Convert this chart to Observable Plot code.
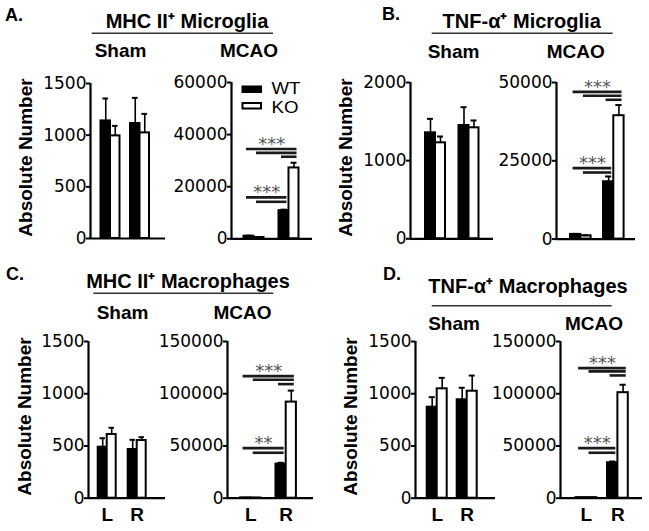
<!DOCTYPE html>
<html>
<head>
<meta charset="utf-8">
<script src="https://cdn.jsdelivr.net/npm/d3@7"></script>
<script src="https://cdn.jsdelivr.net/npm/@observablehq/plot@0.6"></script>
<style>
  body { margin: 0; background: #fff; }
  #fig { position: relative; width: 649px; height: 531px; overflow: hidden; background: #fff;
         font-family: "Liberation Sans", Arial, sans-serif; }
</style>
</head>
<body>
<div id="fig"></div>
<script>
// ---------- categories & labels ----------
const sides = ["L", "R"];
const genotypes = ["WT", "KO"];
const conditions = ["Sham", "MCAO"];
const panelLetters = ["A.", "B.", "C.", "D."];
const panelTitles = ["MHC II⁺ Microglia", "TNF-α⁺ Microglia", "MHC II⁺ Macrophages", "TNF-α⁺ Macrophages"];
const yLabel = "Absolute Number";

// ---------- values (order: L-WT, L-KO, R-WT, R-KO) ----------
const aShamMean = [1138, 993, 1113, 1022];
const aShamSem  = [217, 97, 248, 184];
const aMcaoMean = [1000, 500, 10800, 27200];
const aMcaoSem  = [200, 100, 400, 2000];
const bShamMean = [1356, 1228, 1450, 1420];
const bShamSem  = [179, 81, 234, 94];
const bMcaoMean = [1500, 1050, 18300, 39400];
const bMcaoSem  = [150, 150, 1700, 3400];
const cShamMean = [488, 610, 466, 552];
const cShamSem  = [86, 64, 93, 32];
const cMcaoMean = [300, 200, 32600, 92000];
const cMcaoSem  = [100, 100, 1300, 11000];
const dShamMean = [871, 1047, 942, 1024];
const dShamSem  = [96, 105, 115, 150];
const dMcaoMean = [500, 500, 33900, 101000];
const dMcaoSem  = [100, 100, 1200, 7600];

// ---------- y tick labels ----------
const ticks1500 = [0, 500, 1000, 1500];
const ticks60000 = [0, 20000, 40000, 60000];
const ticks2000 = [0, 1000, 2000];
const ticks50000 = [0, 25000, 50000];
const ticks150000 = [0, 50000, 100000, 150000];

// ---------- significance comparisons: [from bar, to bar, bracket height] ----------
const aSig = [[0, 3, 34500], [1, 3, 33000], [2, 3, 31500], [0, 2, 15900], [1, 2, 14200]];
const bSig = [[0, 3, 47000], [1, 3, 45750], [2, 3, 44480], [0, 2, 22670], [1, 2, 21260]];
const cSig = [[0, 3, 116860], [1, 3, 113400], [2, 3, 109200], [0, 2, 47900], [1, 2, 43500]];
const dSig = [[0, 3, 124500], [1, 3, 121400], [2, 3, 117500], [0, 2, 47900], [1, 2, 43500]];
// star label placed over comparison index
const aStars = [["***", 0], ["***", 3]];
const bStars = [["***", 0], ["***", 3]];
const cStars = [["***", 0], ["**", 3]];
const dStars = [["***", 0], ["***", 3]];

// ---------- layout (page pixels) ----------
const L = {
  aSham: {ax: 90, end: 165, yTop: 83.3, y0: 238.3, lStart: 100.5, rStart: 130, unit: 9.5},
  aMcao: {ax: 230.5, end: 311.5, yTop: 82, y0: 238.3, lStart: 243, rStart: 278, unit: 10},
  bSham: {ax: 410, end: 493, yTop: 82, y0: 238.3, lStart: 425, rStart: 458.5, unit: 10},
  bMcao: {ax: 556, end: 635, yTop: 81.7, y0: 238.3, lStart: 570, rStart: 603, unit: 10.3},
  cSham: {ax: 88, end: 165, yTop: 341, y0: 497.7, lStart: 97.7, rStart: 127.7, unit: 9},
  cMcao: {ax: 227, end: 313, yTop: 341, y0: 497.7, lStart: 240, rStart: 275.5, unit: 10.2},
  dSham: {ax: 415, end: 495, yTop: 341, y0: 497.7, lStart: 426.7, rStart: 456.7, unit: 10},
  dMcao: {ax: 560, end: 642, yTop: 341, y0: 497.7, lStart: 575.5, rStart: 607, unit: 10.4}
};
const H = [
  {letter: [5, 20.7], title: [187, 28.3], rule: [91.7, 273, 33.3], cond: [120.5, 249, 57.3], ylab: [32, 157.5]},
  {letter: [382, 20.3], title: [521.7, 28.3], rule: [431.7, 612.7, 33.3], cond: [453.5, 575.8, 58.3], ylab: [352, 157.5]},
  {letter: [6, 280], title: [188, 288.3], rule: [93.3, 273.3, 293.3], cond: [122.5, 242.5, 319.3], ylab: [30.7, 416.5]},
  {letter: [383, 280], title: [528, 293], rule: [431.7, 611.7, 305.7], cond: [454, 594, 330], ylab: [357, 416.5]}
];

const fig = document.getElementById("fig");

// ---------- headings ----------
const hs = d3.select(fig).append("svg")
  .attr("width", 649).attr("height", 531)
  .style("position", "absolute").style("left", "0px").style("top", "0px")
  .style("font-family", '"Liberation Sans", Arial, sans-serif');

H.forEach((h, i) => {
  hs.append("text").attr("x", h.letter[0]).attr("y", h.letter[1])
    .attr("font-size", 18).attr("font-weight", "bold").text(panelLetters[i]);
  hs.append("text").attr("x", h.title[0]).attr("y", h.title[1]).attr("text-anchor", "middle")
    .attr("font-size", 20).attr("font-weight", "bold").text(panelTitles[i]);
  hs.append("line").attr("x1", h.rule[0]).attr("x2", h.rule[1]).attr("y1", h.rule[2]).attr("y2", h.rule[2])
    .attr("stroke", "#333").attr("stroke-width", 1.5);
  conditions.forEach((c, k) => {
    hs.append("text").attr("x", h.cond[k]).attr("y", h.cond[2]).attr("text-anchor", "middle")
      .attr("font-size", 19).attr("font-weight", "bold").text(c);
  });
  hs.append("text").attr("transform", `translate(${h.ylab[0]},${h.ylab[1]}) rotate(-90)`)
    .attr("text-anchor", "middle").attr("font-size", 19).attr("font-weight", "bold").text(yLabel);
});

// legend (panel A, MCAO)
const legendFill = ["#000", "#fff"];
genotypes.forEach((g, k) => {
  const y = 86 + k * 16.5;
  hs.append("rect").attr("x", 242.5).attr("y", y + 0.5).attr("width", 18.5).attr("height", 5.5)
    .attr("fill", legendFill[k]).attr("stroke", "#000").attr("stroke-width", 2);
  hs.append("text").attr("x", 271.5).attr("y", 93.5 + k * 19).attr("font-size", 16.5)
    .attr("textLength", k ? 27 : 29).attr("lengthAdjust", "spacingAndGlyphs").text(g);
});

// ---------- subplot builder ----------
function subplot(lay, mean, sem, yMax, ticks, opts = {}) {
  const mL = 75, mR = 12, mT = 14, mB = opts.xlabels ? 34 : 10;
  const W = (lay.end - lay.ax) / lay.unit;
  const off = [(lay.lStart - lay.ax) / lay.unit, (lay.rStart - lay.ax) / lay.unit];
  const bars = mean.map((m, i) => {
    const s = Math.floor(i / 2), g = i % 2;
    const x1 = off[s] + g;
    return {side: sides[s], genotype: genotypes[g], x1, x2: x1 + 1, xc: x1 + 0.5, mean: m, top: m + sem[i]};
  });
  const pairs = sides.map((s, k) => ({side: s, xc: off[k] + 1}));
  const lines = (opts.sig || []).map(([a, b, y]) => ({x1: bars[a].xc - 0.25, x2: bars[b].x2 - 0.2, y}));
  const stars = (opts.stars || []).map(([label, k]) => ({label, x: (lines[k].x1 + lines[k].x2) / 2, y: lines[k].y}));
  const marks = [
    Plot.rect(bars, {x1: "x1", x2: "x2", y1: () => 0, y2: "mean", fill: "genotype", stroke: "#000", strokeWidth: 2}),
    Plot.ruleX(bars, {x: "xc", y1: "mean", y2: "top", stroke: "#000", strokeWidth: 1.6}),
    Plot.ruleY(bars, {x1: d => d.xc - 0.3, x2: d => d.xc + 0.3, y: "top", stroke: "#000", strokeWidth: 2}),
    Plot.ruleX([0], {stroke: "#000", strokeWidth: 2.2}),
    Plot.ruleY([0], {stroke: "#000", strokeWidth: 2.2}),
    Plot.axisY(ticks, {tickSize: 4, tickPadding: 0, fontSize: 17, fontFamily: "DejaVu Sans",
      tickFormat: d => String(d), strokeWidth: 2, label: null, fill: "#000", stroke: "#000"}),
    Plot.ruleY(lines, {x1: "x1", x2: "x2", y: "y", stroke: "#1a1a1a", strokeWidth: 2.6}),
    Plot.text(stars, {x: "x", y: "y", text: "label", lineAnchor: "bottom", dy: 1, fontSize: 18,
      fontFamily: "DejaVu Sans", fill: "#555"})
  ];
  if (opts.xlabels) {
    marks.push(Plot.text(pairs, {x: "xc", text: "side", frameAnchor: "bottom", lineAnchor: "top", dy: 9,
      fontSize: 19, fontWeight: "bold", fill: "#000"}));
  }
  const el = Plot.plot({
    width: mL + (lay.end - lay.ax) + mR,
    height: mT + (lay.y0 - lay.yTop) + mB,
    marginLeft: mL, marginRight: mR, marginTop: mT, marginBottom: mB,
    style: {background: "transparent", overflow: "visible", position: "absolute",
      left: (lay.ax - mL) + "px", top: (lay.yTop - mT) + "px", maxWidth: "none",
      fontFamily: '"Liberation Sans", Arial, sans-serif'},
    x: {domain: [0, W], axis: null},
    y: {domain: [0, yMax], axis: null},
    color: {domain: genotypes, range: ["#000", "#fff"]},
    marks
  });
  fig.appendChild(el);
}

subplot(L.aSham, aShamMean, aShamSem, 1500, ticks1500);
subplot(L.aMcao, aMcaoMean, aMcaoSem, 60000, ticks60000, {sig: aSig, stars: aStars});
subplot(L.bSham, bShamMean, bShamSem, 2000, ticks2000);
subplot(L.bMcao, bMcaoMean, bMcaoSem, 50000, ticks50000, {sig: bSig, stars: bStars});
subplot(L.cSham, cShamMean, cShamSem, 1500, ticks1500, {xlabels: true});
subplot(L.cMcao, cMcaoMean, cMcaoSem, 150000, ticks150000, {xlabels: true, sig: cSig, stars: cStars});
subplot(L.dSham, dShamMean, dShamSem, 1500, ticks1500, {xlabels: true});
subplot(L.dMcao, dMcaoMean, dMcaoSem, 150000, ticks150000, {xlabels: true, sig: dSig, stars: dStars});
</script>
</body>
</html>
